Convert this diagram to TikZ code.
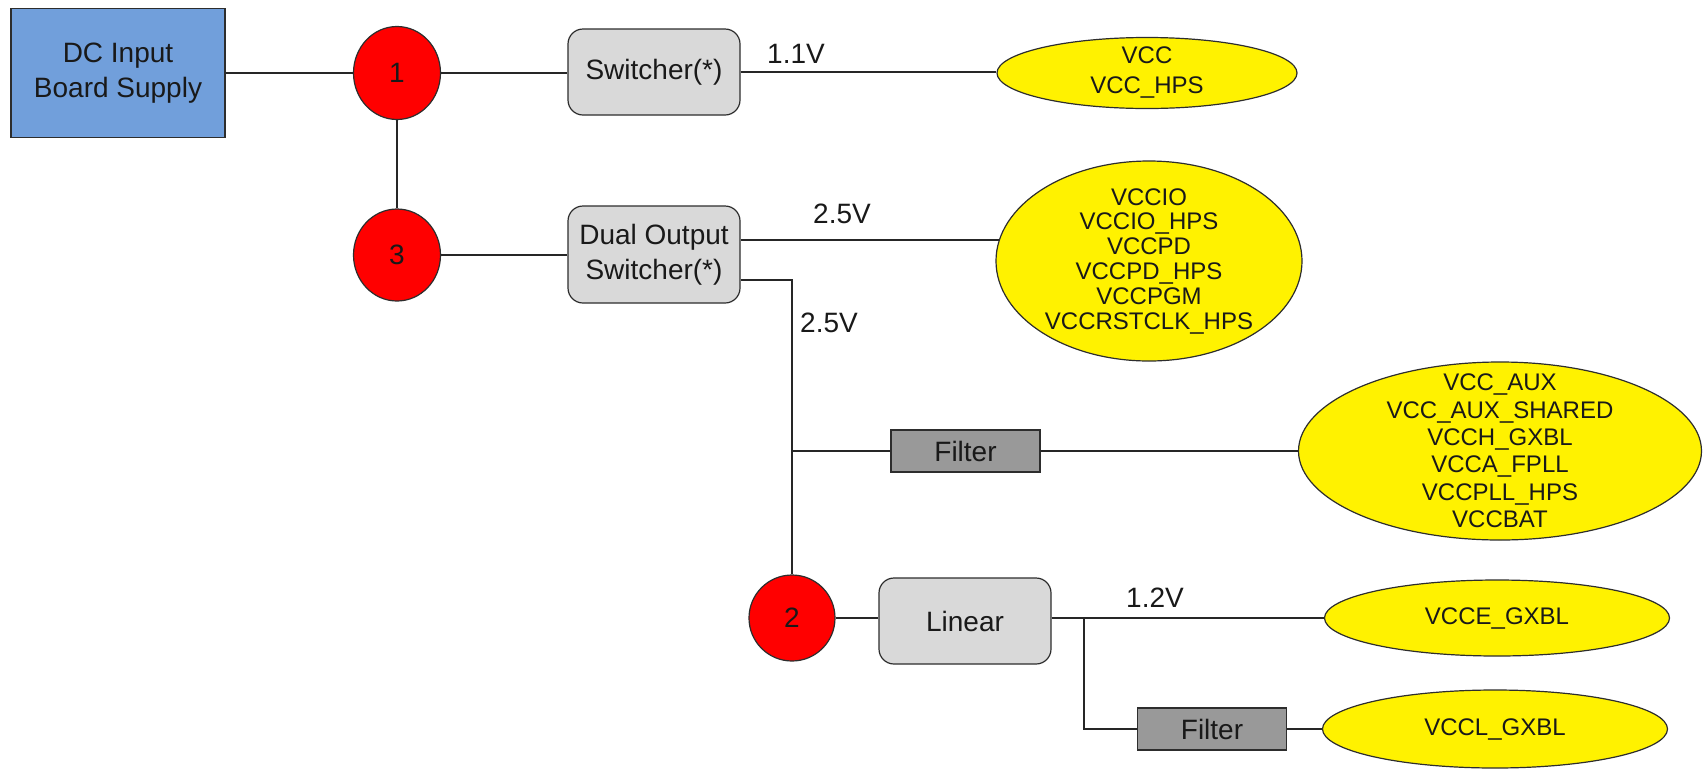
\documentclass[tikz,border=0pt]{standalone}
\usepackage{fontspec}
\setmainfont{Liberation Sans}
\usetikzlibrary{shapes.geometric}
\definecolor{dcblue}{RGB}{113,159,219}
\definecolor{boxgray}{RGB}{217,217,217}
\definecolor{filtgray}{RGB}{153,153,153}
\definecolor{edgec}{RGB}{45,45,45}
\definecolor{txtc}{RGB}{25,25,25}
\begin{document}
\begin{tikzpicture}[x=0.5pt,y=-0.5pt,
  wire/.style={draw=black!85, line width=0.8pt},
  dcbox/.style={rectangle, draw=edgec, line width=0.9pt, fill=dcblue, minimum width=107pt, minimum height=64.5pt, align=center, font=\fontsize{14}{17.5}\selectfont, text=txtc},
  rednode/.style={ellipse, draw=edgec, line width=0.6pt, fill=red, inner sep=-30pt, font=\fontsize{14}{16}\selectfont, text=txtc},
  rbox/.style={rectangle, rounded corners=7.5pt, draw=edgec, line width=0.6pt, fill=boxgray, minimum width=86pt, align=center, font=\fontsize{14}{17.5}\selectfont, text=txtc},
  fbox/.style={rectangle, draw=edgec, line width=0.8pt, fill=filtgray, minimum width=74.5pt, minimum height=21pt, inner sep=0pt, font=\fontsize{14}{16}\selectfont, text=txtc},
  yel/.style={ellipse, draw=edgec, line width=0.6pt, fill=yellow, inner sep=-40pt, align=center, text=txtc},
  lbl/.style={font=\fontsize{14}{16}\selectfont, text=txtc, inner sep=0pt}
]
\useasboundingbox (0,0) rectangle (1703,772);
\fill[white] (0,0) rectangle (1703,772);

% nodes
\node[dcbox] (dc) at (118,73) {DC Input\\Board Supply};
\node[rednode, minimum width=43.5pt, minimum height=46.5pt] (c1) at (397,73) {1};
\node[rednode, minimum width=43.5pt, minimum height=46pt] (c3) at (397,255) {3};
\node[rednode, minimum width=43pt, minimum height=43pt] (c2) at (792,618) {2};

\node[rbox, minimum height=43pt] (sw) at (654,72) {Switcher(*)};
\node[rbox, minimum height=48.5pt] (dual) at (654,254.5) {Dual Output\\Switcher(*)};
\node[rbox, minimum height=43pt] (lin) at (965,621) {Linear};

\node[fbox] (f1) at (965.5,451) {Filter};
\node[fbox] (f2) at (1212,729) {Filter};

\node[yel, minimum width=150pt, minimum height=35.5pt, font=\fontsize{12}{15}\selectfont] (vcc) at (1147,73) {VCC\\VCC\_HPS};
\node[yel, minimum width=153pt, minimum height=100pt, font=\fontsize{12}{12.4}\selectfont] (vio) at (1149,261)
  {VCCIO\\VCCIO\_HPS\\VCCPD\\VCCPD\_HPS\\VCCPGM\\VCCRSTCLK\_HPS};
\node[yel, minimum width=201.5pt, minimum height=89pt, font=\fontsize{12}{13.7}\selectfont] (aux) at (1500,451)
  {VCC\_AUX\\VCC\_AUX\_SHARED\\VCCH\_GXBL\\VCCA\_FPLL\\VCCPLL\_HPS\\VCCBAT};
\node[yel, minimum width=172.5pt, minimum height=38pt, font=\fontsize{12}{14}\selectfont] (vce) at (1497,618) {VCCE\_GXBL};
\node[yel, minimum width=172.5pt, minimum height=39pt, font=\fontsize{12}{14}\selectfont] (vcl) at (1495,729) {VCCL\_GXBL};

% labels
\node[lbl] (l11) at (796,54) {1.1V};
\node[lbl] (l25a) at (842,214) {2.5V};
\node[lbl] (l25b) at (829,323) {2.5V};
\node[lbl] (l12) at (1155,598) {1.2V};

% connectors
\draw[wire] (dc.east) -- (dc.east -| c1.west);
\draw[wire] (c1.east) -- (c1.east -| sw.west);
\draw[wire] (c1.south) -- (c3.north);
\draw[wire] (sw.east) -- (sw.east -| vcc.west);
\draw[wire] (c3.east) -- (c3.east -| dual.west);
\draw[wire] (dual.east |- vio.172.4) -- (vio.172.4);
\draw[wire] (dual.east |- 0,280) -| (c2.north);
\draw[wire] (c2.north |- f1.west) -- (f1.west);
\draw[wire] (f1.east) -- (aux.west);
\draw[wire] (c2.east) -- (c2.east -| lin.west);
\draw[wire] (lin.east |- vce.west) -- (vce.west);
\coordinate (j2) at (1084,618);
\draw[wire] (j2) |- (f2.west);
\draw[wire] (f2.east) -- (vcl.west);
\end{tikzpicture}
\end{document}
